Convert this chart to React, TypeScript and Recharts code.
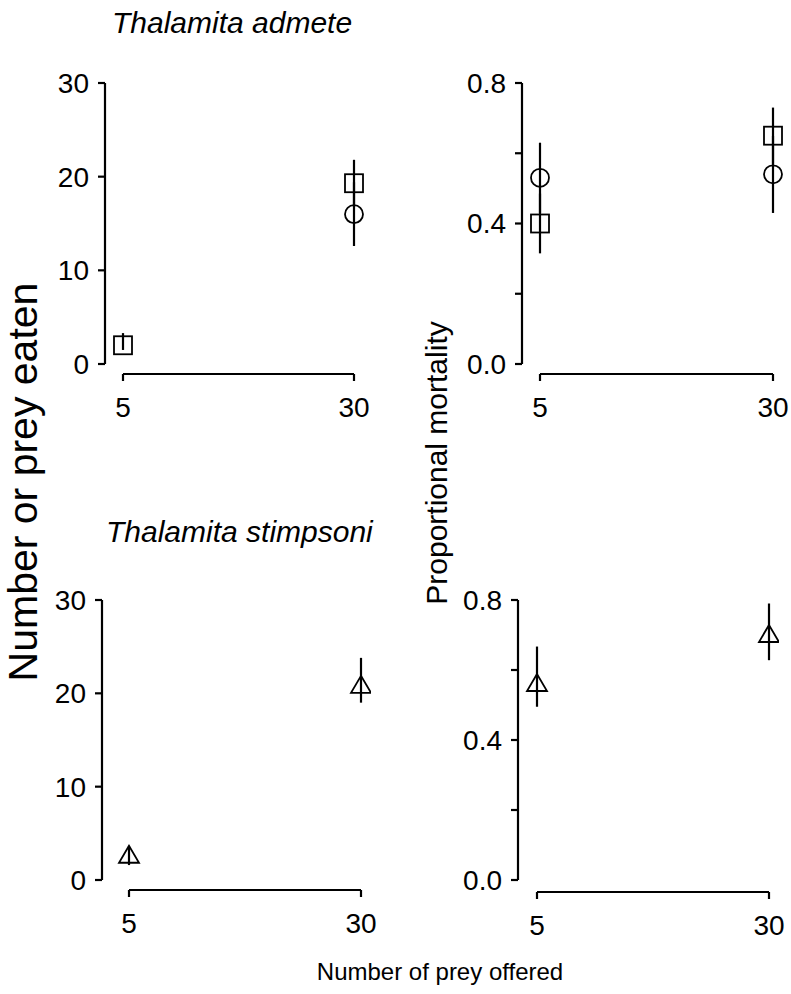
import React from 'react';
import { ScatterChart, Scatter, XAxis, YAxis, ErrorBar, ReferenceLine } from 'recharts';

// x categories (number of prey offered)
const preyOffered = [5, 30];

// Thalamita admete — number eaten
const admeteEatenSquare = [2.0, 19.3];
const admeteEatenSquareErr = [[0.5, 1.3], [2.5, 2.5]];
const admeteEatenCircle = [null, 16.0];
const admeteEatenCircleErr = [null, [3.4, 3.4]];

// Thalamita admete — proportional mortality
const admeteMortSquare = [0.4, 0.65];
const admeteMortSquareErr = [[0.085, 0.085], [0.08, 0.08]];
const admeteMortCircle = [0.53, 0.54];
const admeteMortCircleErr = [[0.1, 0.1], [0.11, 0.11]];

// Thalamita stimpsoni
const stimpsoniEaten = [2.6, 20.8];
const stimpsoniEatenErr = [[1.0, 1.0], [1.8, 3.0]];
const stimpsoniMort = [0.56, 0.7];
const stimpsoniMortErr = [[0.065, 0.107], [0.072, 0.09]];

const eatenTicks = [0, 10, 20, 30];
const eatenTickLabels = ['0', '10', '20', '30'];
const mortTicks = [0, 0.2, 0.4, 0.6, 0.8];
const mortTickLabels = ['0.0', '', '0.4', '', '0.8'];

const FONT = "'Liberation Sans', Arial, sans-serif";
const TICK_FS = 28;

type Marker = 'square' | 'circle' | 'triangle';

function toPoints(vals: (number | null)[], errs: (number[] | null)[]) {
  return preyOffered
    .map((x, i) => ({ x, y: vals[i], err: errs[i] }))
    .filter((d) => d.y != null);
}

function MarkerShape(props: any) {
  const { cx, cy, marker } = props;
  if (cx == null || cy == null) return null;
  const common = { fill: 'none', stroke: '#000', strokeWidth: 1.8 };
  if (marker === 'square') return <rect x={cx - 9} y={cy - 9} width={18} height={18} {...common} />;
  if (marker === 'circle') return <circle cx={cx} cy={cy} r={9} {...common} />;
  return <polygon points={`${cx},${cy - 10} ${cx - 10},${cy + 7} ${cx + 10},${cy + 7}`} {...common} />;
}

function XTick(props: any) {
  const { x, y, payload, gap } = props;
  return (
    <g>
      <line x1={x} x2={x} y1={y + gap} y2={y + gap + 7} stroke="#000" strokeWidth={2.2} />
      <text x={x} y={y + gap + 33} dy={TICK_FS * 0.35} textAnchor="middle" fontFamily={FONT} fontSize={TICK_FS} fill="#000">
        {payload.value}
      </text>
    </g>
  );
}

interface PanelProps {
  axisX: number;
  yTopPx: number;
  yZeroPx: number;
  x5Px: number;
  x30Px: number;
  xLinePx: number;
  yMax: number;
  yTicks: number[];
  yTickLabels: string[];
  series: { data: any[]; marker: Marker }[];
}

function Panel({ axisX, yTopPx, yZeroPx, x5Px, x30Px, xLinePx, yMax, yTicks, yTickLabels, series }: PanelProps) {
  const plotH = yZeroPx - yTopPx;
  const pxPerX = (x30Px - x5Px) / 25;
  const rightPad = 10;
  const xMin = 5 - (x5Px - axisX) / pxPerX;
  const xMax = 30 + rightPad / pxPerX;
  const plotW = (xMax - xMin) * pxPerX;
  const yAxisW = 80;
  const topM = 20;
  const xAxisH = 60;
  const gapPx = xLinePx - yZeroPx;
  const lineVal = (-gapPx * yMax) / plotH;
  const width = yAxisW + plotW + 20;
  const height = topM + plotH + xAxisH;
  return (
    <div style={{ position: 'absolute', left: axisX - yAxisW, top: yTopPx - topM }}>
      <ScatterChart width={width} height={height} margin={{ top: topM, right: 20, bottom: 0, left: 0 }}>
        <XAxis
          type="number"
          dataKey="x"
          domain={[xMin, xMax]}
          ticks={preyOffered}
          allowDataOverflow
          axisLine={false}
          tickLine={false}
          tickSize={0}
          tickMargin={0}
          height={xAxisH}
          tick={<XTick gap={gapPx} />}
        />
        <YAxis
          type="number"
          dataKey="y"
          domain={[0, yMax]}
          ticks={yTicks}
          allowDataOverflow
          width={yAxisW}
          axisLine={{ stroke: '#000', strokeWidth: 2.2 }}
          tickLine={{ stroke: '#000', strokeWidth: 2.2 }}
          tickSize={7}
          tickMargin={9}
          tickFormatter={(v: number) => yTickLabels[yTicks.indexOf(v)] ?? ''}
          tick={{ fill: '#000', fontSize: TICK_FS, fontFamily: FONT }}
        />
        <ReferenceLine
          segment={[{ x: 5, y: lineVal }, { x: 30, y: lineVal }]}
          ifOverflow="visible"
          stroke="#000"
          strokeWidth={2.2}
        />
        {series.map((s, i) => (
          <Scatter
            key={i}
            data={s.data}
            isAnimationActive={false}
            shape={(p: any) => <MarkerShape {...p} marker={s.marker} />}
          >
            <ErrorBar dataKey="err" direction="y" width={0} stroke="#000" strokeWidth={2.2} />
          </Scatter>
        ))}
      </ScatterChart>
    </div>
  );
}

const textBase: React.CSSProperties = {
  position: 'absolute',
  fontFamily: FONT,
  color: '#000',
  whiteSpace: 'nowrap',
  lineHeight: 1,
};

export default function App() {
  return (
    <div style={{ position: 'absolute', left: 0, top: 0, width: 791, height: 994, background: '#fff', overflow: 'hidden' }}>
      <Panel
        axisX={105}
        yTopPx={83}
        yZeroPx={364}
        x5Px={123}
        x30Px={354}
        xLinePx={374}
        yMax={30}
        yTicks={eatenTicks}
        yTickLabels={eatenTickLabels}
        series={[
          { data: toPoints(admeteEatenSquare, admeteEatenSquareErr), marker: 'square' },
          { data: toPoints(admeteEatenCircle, admeteEatenCircleErr), marker: 'circle' },
        ]}
      />
      <Panel
        axisX={522}
        yTopPx={83}
        yZeroPx={364}
        x5Px={540}
        x30Px={773}
        xLinePx={374}
        yMax={0.8}
        yTicks={mortTicks}
        yTickLabels={mortTickLabels}
        series={[
          { data: toPoints(admeteMortSquare, admeteMortSquareErr), marker: 'square' },
          { data: toPoints(admeteMortCircle, admeteMortCircleErr), marker: 'circle' },
        ]}
      />
      <Panel
        axisX={102}
        yTopPx={600}
        yZeroPx={880}
        x5Px={129}
        x30Px={361}
        xLinePx={890}
        yMax={30}
        yTicks={eatenTicks}
        yTickLabels={eatenTickLabels}
        series={[{ data: toPoints(stimpsoniEaten, stimpsoniEatenErr), marker: 'triangle' }]}
      />
      <Panel
        axisX={518}
        yTopPx={600}
        yZeroPx={880}
        x5Px={537}
        x30Px={769}
        xLinePx={892}
        yMax={0.8}
        yTicks={mortTicks}
        yTickLabels={mortTickLabels}
        series={[{ data: toPoints(stimpsoniMort, stimpsoniMortErr), marker: 'triangle' }]}
      />

      <div style={{ ...textBase, left: 112, top: 8, fontSize: 30, fontStyle: 'italic' }}>Thalamita admete</div>
      <div style={{ ...textBase, left: 106, top: 517, fontSize: 30, fontStyle: 'italic' }}>Thalamita stimpsoni</div>
      <div
        style={{
          ...textBase,
          left: 23,
          top: 482,
          fontSize: 41,
          transform: 'translate(-50%, -50%) rotate(-90deg)',
        }}
      >
        Number or prey eaten
      </div>
      <div
        style={{
          ...textBase,
          left: 437,
          top: 463,
          fontSize: 30,
          transform: 'translate(-50%, -50%) rotate(-90deg)',
        }}
      >
        Proportional mortality
      </div>
      <div style={{ ...textBase, left: 440, top: 972, fontSize: 24, transform: 'translate(-50%, -50%)' }}>
        Number of prey offered
      </div>
    </div>
  );
}
